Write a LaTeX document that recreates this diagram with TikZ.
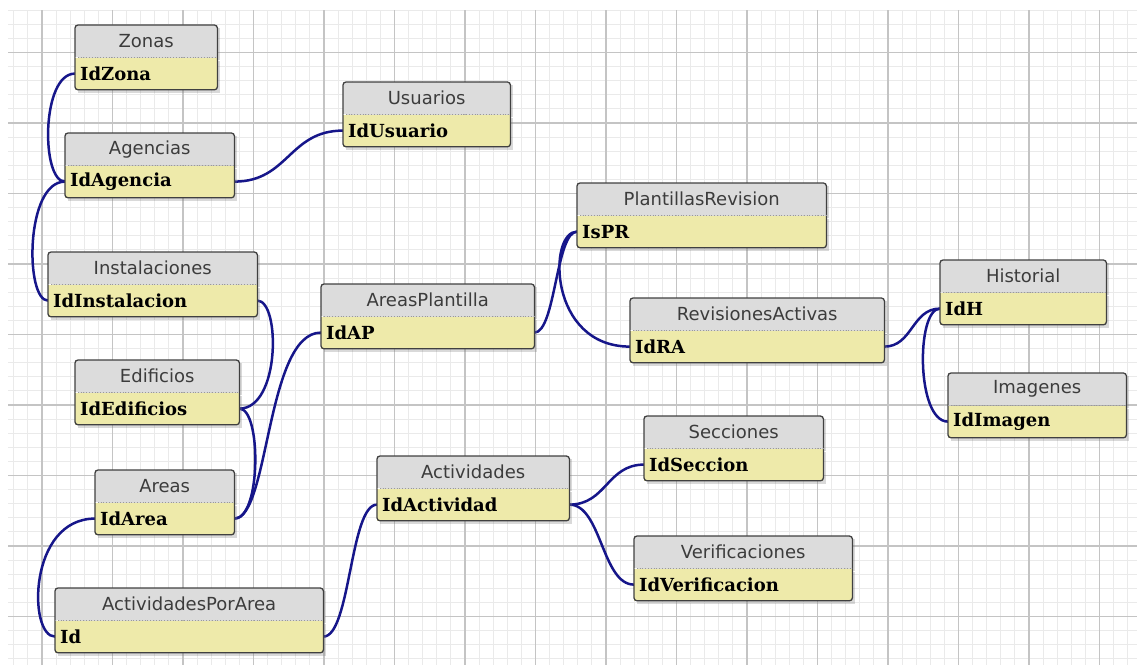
\documentclass[tikz,border=0pt]{standalone}
\usepackage{fontspec}
\usepackage{tikz}
\usetikzlibrary{positioning,shadows,backgrounds}

\setmainfont{DejaVu Sans}
\newfontfamily\keyfont{DejaVu Serif}

\definecolor{headgray}{RGB}{220,220,220}
\definecolor{keyyellow}{RGB}{238,234,170}
\definecolor{headtext}{RGB}{60,60,60}
\definecolor{relblue}{RGB}{22,22,138}
\definecolor{minorgrid}{RGB}{234,234,234}
\definecolor{majorgrid}{RGB}{196,196,196}

\begin{document}
\begin{tikzpicture}[x=1pt,y=-1pt]
  \tikzstyle{tblhead}=[anchor=north west, fill=headgray, text=headtext, minimum height=32pt, inner sep=0pt,
    font=\fontsize{18}{20}\selectfont, drop shadow={shadow xshift=3pt, shadow yshift=-3pt, opacity=0.3}]
  \tikzstyle{tblkey}=[fill=keyyellow, minimum height=32pt, inner xsep=5pt, inner ysep=0pt, align=left,
    font=\keyfont\bfseries\fontsize{18}{20}\selectfont, drop shadow={shadow xshift=3pt, shadow yshift=-3pt, opacity=0.3}]
  \tikzstyle{frame}=[draw=black!75, line width=1.3pt, rounded corners=3pt]
  \tikzstyle{sepline}=[draw=black!40, dotted, line width=0.8pt]
  \tikzstyle{rel}=[draw=relblue, line width=2.5pt]

  \useasboundingbox (0,0) rectangle (1137,665);

  % grid
  \begin{scope}[on background layer]
    \clip (8,10) rectangle (1137,665);
    \foreach \i in {0,...,80}
      \draw[minorgrid, line width=1pt] ({13.8+14.1*\i},10) -- ({13.8+14.1*\i},665);
    \foreach \j in {0,...,46}
      \draw[minorgrid, line width=1pt] (8,{10.2+14.1*\j}) -- (1137,{10.2+14.1*\j});
    \foreach \i in {0,...,15}
      \draw[majorgrid, line width=1.3pt] ({42+70.5*\i},10) -- ({42+70.5*\i},665);
    \foreach \j in {0,...,8}
      \draw[majorgrid, line width=1.3pt] (8,{52.5+70.5*\j}) -- (1137,{52.5+70.5*\j});
  \end{scope}

  % tables
  \node[tblhead, minimum width=142pt] (zonas) at (75,25) {Zonas};
  \node[tblkey, text width=132pt, below=0pt of zonas] (idzona) {IdZona};

  \node[tblhead, minimum width=169pt] (agencias) at (65,133) {Agencias};
  \node[tblkey, text width=159pt, below=0pt of agencias] (idagencia) {IdAgencia};

  \node[tblhead, minimum width=167pt] (usuarios) at (343,82) {Usuarios};
  \node[tblkey, text width=157pt, below=0pt of usuarios] (idusuario) {IdUsuario};

  \node[tblhead, minimum width=209pt] (instalaciones) at (48,252) {Instalaciones};
  \node[tblkey, text width=199pt, below=0pt of instalaciones] (idinstalacion) {IdInstalacion};

  \node[tblhead, minimum width=164pt] (edificios) at (75,360) {Edificios};
  \node[tblkey, text width=154pt, below=0pt of edificios] (idedificios) {IdEdificios};

  \node[tblhead, minimum width=213pt] (areasplantilla) at (321,284) {AreasPlantilla};
  \node[tblkey, text width=203pt, below=0pt of areasplantilla] (idap) {IdAP};

  \node[tblhead, minimum width=139pt] (areas) at (95,470) {Areas};
  \node[tblkey, text width=129pt, below=0pt of areas] (idarea) {IdArea};

  \node[tblhead, minimum width=268pt] (actporarea) at (55,588) {ActividadesPorArea};
  \node[tblkey, text width=258pt, below=0pt of actporarea] (id) {Id};

  \node[tblhead, minimum width=192pt] (actividades) at (377,456) {Actividades};
  \node[tblkey, text width=182pt, below=0pt of actividades] (idactividad) {IdActividad};

  \node[tblhead, minimum width=249pt] (plantillas) at (577,183) {PlantillasRevision};
  \node[tblkey, text width=239pt, below=0pt of plantillas] (ispr) {IsPR};

  \node[tblhead, minimum width=254pt] (revisiones) at (630,298) {RevisionesActivas};
  \node[tblkey, text width=244pt, below=0pt of revisiones] (idra) {IdRA};

  \node[tblhead, minimum width=166pt] (historial) at (940,260) {Historial};
  \node[tblkey, text width=156pt, below=0pt of historial] (idh) {IdH};

  \node[tblhead, minimum width=178pt] (imagenes) at (948,373) {Imagenes};
  \node[tblkey, text width=168pt, below=0pt of imagenes] (idimagen) {IdImagen};

  \node[tblhead, minimum width=179pt] (secciones) at (644,416) {Secciones};
  \node[tblkey, text width=169pt, below=0pt of secciones] (idseccion) {IdSeccion};

  \node[tblhead, minimum width=218pt] (verificaciones) at (634,536) {Verificaciones};
  \node[tblkey, text width=208pt, below=0pt of verificaciones] (idverificacion) {IdVerificacion};

  \foreach \t/\k in {zonas/idzona, agencias/idagencia, usuarios/idusuario, instalaciones/idinstalacion,
      edificios/idedificios, areasplantilla/idap, areas/idarea, actporarea/id, actividades/idactividad,
      plantillas/ispr, revisiones/idra, historial/idh, imagenes/idimagen, secciones/idseccion,
      verificaciones/idverificacion} {
    \draw[frame] (\t.north west) rectangle (\k.south east);
    \draw[sepline] (\k.north west) -- (\k.north east);
  }

  % relations
  \begin{scope}[on background layer]
    \draw[rel] (idzona.west) .. controls +(-34,0) and +(-24,0) .. (idagencia.west);
    \draw[rel] (idagencia.west) .. controls +(-40,0) and +(-23,0) .. (idinstalacion.west);
    \draw[rel] (idagencia.east) .. controls +(54,0) and +(-54,0) .. (idusuario.west);
    \draw[rel] (idinstalacion.east) .. controls +(23,0) and +(41,0) .. (idedificios.east);
    \draw[rel] (idedificios.east) .. controls +(22,0) and +(27,0) .. (idarea.east);
    \draw[rel] (idarea.east) .. controls +(35,0) and +(-55,0) .. (idap.west);
    \draw[rel] (idarea.west) .. controls +(-67,0) and +(-27,0) .. (id.west);
    \draw[rel] (id.east) .. controls +(27,0) and +(-27,0) .. (idactividad.west);
    \draw[rel] (idap.east) .. controls +(21,0) and +(-21,0) .. (ispr.west);
    \draw[rel] (ispr.west) .. controls +(-29,0) and +(-82,0) .. (idra.west);
    \draw[rel] (idra.east) .. controls +(28,0) and +(-28,0) .. (idh.west);
    \draw[rel] (idh.west) .. controls +(-24,0) and +(-32,0) .. (idimagen.west);
    \draw[rel] (idactividad.east) .. controls +(37,0) and +(-37,0) .. (idseccion.west);
    \draw[rel] (idactividad.east) .. controls +(32,0) and +(-32,0) .. (idverificacion.west);
  \end{scope}

\end{tikzpicture}
\end{document}
